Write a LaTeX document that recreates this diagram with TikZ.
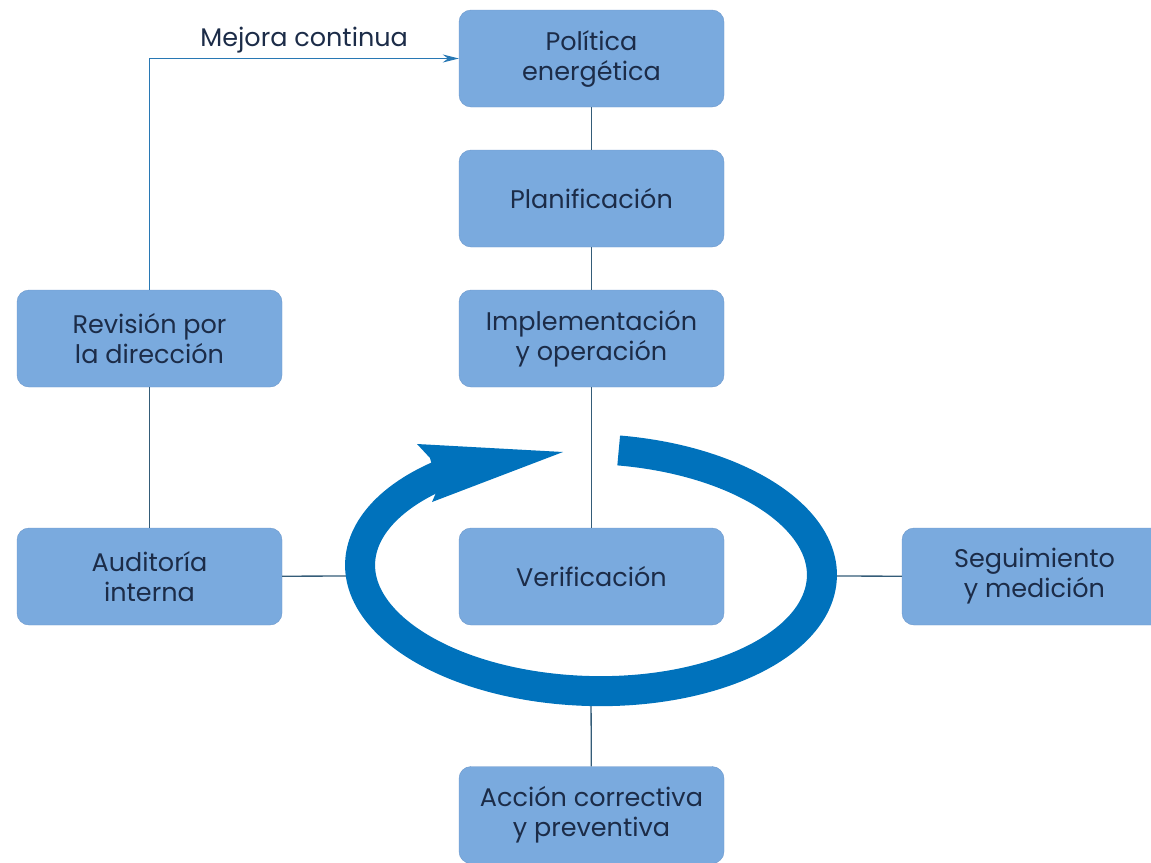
\documentclass[tikz,border=0pt]{standalone}
\usepackage{fontspec}
\setmainfont{Poppins}
\usetikzlibrary{arrows,arrows.meta,shapes}
\definecolor{azulCaja}{RGB}{122,170,222}
\definecolor{azulBorde}{RGB}{108,152,204}
\definecolor{textoCaja}{RGB}{28,44,72}
\definecolor{azulFlecha}{RGB}{0,114,188}
\definecolor{lineaGris}{RGB}{52,92,120}
\definecolor{azulLinea}{RGB}{40,120,180}
\tikzstyle{caja} = [draw=azulBorde, fill=azulCaja, rectangle, rounded corners=12pt, minimum height=97pt, minimum width=265pt, align=center, text=textoCaja, font=\fontsize{25.5}{30}\selectfont]
\tikzstyle{linea} = [draw=lineaGris, line width=1.3pt]
\tikzstyle{ciclo} = [draw=azulFlecha, line width=30pt]

\begin{document}
\begin{tikzpicture}[x=1pt, y=-1pt, node distance=140pt, >={Stealth[length=16pt,width=8pt]}]
    \useasboundingbox (0,0) rectangle (1151,862);
    \clip (0,0) rectangle (1151,862);
    \node [caja] (politica) at (591.5,58.5) {Política\\energética};
    \node [caja, below of=politica] (planif) {Planificación};
    \node [caja, below of=planif] (implem) {Implementación\\y operación};
    \node [caja, below of=implem, node distance=238pt] (verif) {Verificación};
    \node [caja, below of=verif, node distance=238.5pt] (accion) {Acción correctiva\\y preventiva};
    \node [caja, left of=implem, node distance=442pt] (revision) {Revisión por\\la dirección};
    \node [caja, left of=verif, node distance=442pt] (auditoria) {Auditoría\\interna};
    \node [caja, right of=verif, node distance=443pt] (seguim) {Seguimiento\\y medición};

    \coordinate (cicloIzq) at (362,576);
    \coordinate (cicloDer) at (822,576);
    \coordinate (cicloAbajo) at (591,690);

    \draw [linea] (politica) -- (planif);
    \draw [linea] (planif) -- (implem);
    \draw [linea] (implem) -- (verif);
    \draw [linea] (revision) -- (auditoria);
    \draw [linea] (auditoria) -- (cicloIzq);
    \draw [linea] (cicloDer) -- (seguim);
    \draw [linea] (cicloAbajo) -- (accion);
    \draw [linea, draw=azulLinea, ->] (revision) |- node[pos=0.75, above=1pt, text=textoCaja, font=\fontsize{25.5}{30}\selectfont] {Mejora continua} (politica);

    % flecha del ciclo
    \draw [ciclo, rotate around={-1.7:(591,570)}] (591,570) ++(-84:231 and 121)
        arc [start angle=-84, end angle=230, x radius=231, y radius=121];
    \fill [azulFlecha] (563,452) -- (417,444) -- (430,458) -- (438,488) -- (432,502) -- cycle;
\end{tikzpicture}
\end{document}
